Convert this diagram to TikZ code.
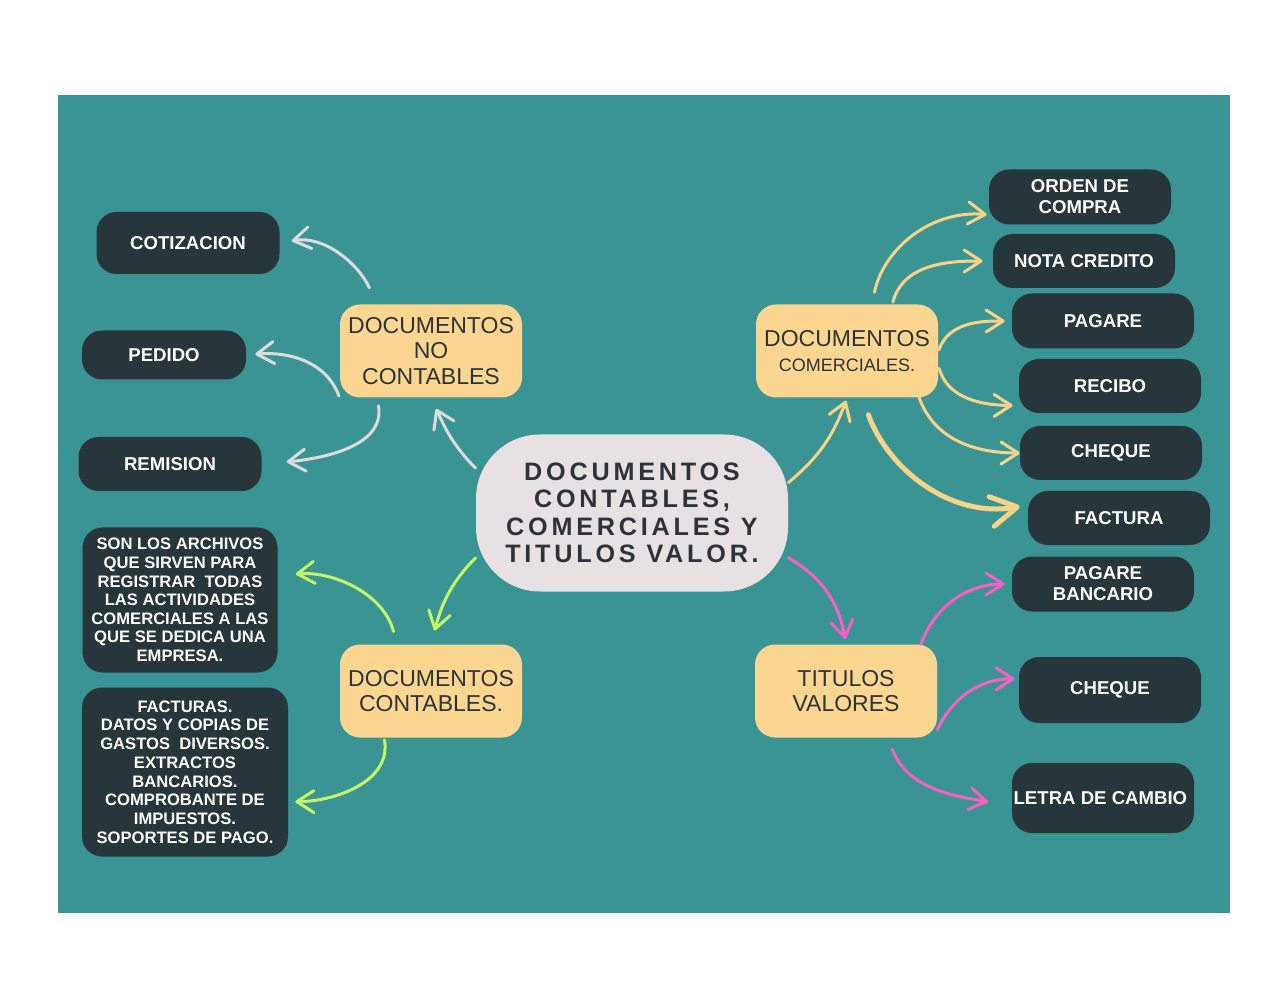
\documentclass[tikz,border=0pt]{standalone}
\usepackage{fontspec}
\setmainfont{Liberation Sans}
\usepackage{xcolor}
\usetikzlibrary{arrows.meta, shapes.geometric}

\definecolor{fondo}{HTML}{3A9494}
\definecolor{oscuro}{HTML}{27363A}
\definecolor{amarillo}{HTML}{FAD690}
\definecolor{centro}{HTML}{E8E1E3}
\definecolor{texto}{HTML}{2E3338}
\definecolor{gris}{HTML}{DCDCDC}
\definecolor{flechaam}{HTML}{F7D38A}
\definecolor{verde}{HTML}{C3F56B}
\definecolor{rosa}{HTML}{F560C2}

\begin{document}
\begin{tikzpicture}[x=0.5pt,y=0.5pt,
  hoja/.style={fill=oscuro, rounded corners=10pt, text=white, align=center, inner sep=0pt,
    font=\bfseries\fontsize{9.3}{10.5}\selectfont},
  caja/.style={fill=amarillo, rounded corners=10pt, text=texto, align=center, inner sep=0pt,
    minimum width=91pt, minimum height=46.5pt, font=\fontsize{11.5}{12.8}\selectfont},
  flecha/.style={line width=1.5pt, line cap=round, -{Straight Barb[length=8.5pt,width=11pt,round]}}]

% fondo
\fill[white] (0,0) rectangle (1280,-989);
\fill[fondo] (58,-95) rectangle (1230,-913);

% nodo central
\node[fill=centro, rounded corners=32pt, minimum width=156pt, minimum height=78.5pt, inner sep=0pt,
  align=center, text=texto, font=\bfseries\fontsize{12.6}{13.7}\selectfont\addfontfeature{LetterSpace=15}]
  (main) at (632,-513) {DOCUMENTOS\\CONTABLES,\\COMERCIALES Y\\TITULOS VALOR.};

% cajas amarillas
\node[caja] (nc) at (431,-351) {DOCUMENTOS\\NO\\CONTABLES};
\node[caja] (cont) at (431,-691) {DOCUMENTOS\\CONTABLES.};
\node[caja] (com) at (847,-351) {DOCUMENTOS\\{\fontsize{9}{10}\selectfont COMERCIALES.}};
\node[caja] (tit) at (846,-691) {TITULOS\\VALORES};

% hojas
\foreach \n/\x/\y/\w/\h/\t in {
    cot/188/243/91.5/31/COTIZACION,
    ped/164/355/82/24.5/PEDIDO,
    rem/170/464/91.5/27/REMISION,
    orden/1080/197/91/27.5/{ORDEN DE\\COMPRA},
    nota/1084/261/91/27/NOTA CREDITO,
    pag/1103/321/91/27.5/PAGARE,
    rec/1110/386/91/27/RECIBO,
    cheq/1111/453/91/27/CHEQUE,
    fac/1119/518/91/27/FACTURA,
    pb/1103/584/91/27.5/{PAGARE\\BANCARIO},
    ch2/1110/690/91/33/CHEQUE,
    let/1103/798/91/35/LETRA DE CAMBIO
} {
    \node[hoja, minimum width=\w pt, minimum height=\h pt] (\n) at (\x,-\y) {\t};
}
\node[hoja, minimum width=97.5pt, minimum height=72.5pt, font=\bfseries\fontsize{8.3}{9.3}\selectfont]
  (son) at (180,-600) {SON LOS ARCHIVOS\\QUE SIRVEN PARA\\REGISTRAR\ \ TODAS\\LAS ACTIVIDADES\\COMERCIALES A LAS\\QUE SE DEDICA UNA\\EMPRESA.};
\node[hoja, minimum width=103pt, minimum height=84.5pt, font=\bfseries\fontsize{8.3}{9.35}\selectfont]
  (facs) at (185,-772) {FACTURAS.\\DATOS Y COPIAS DE\\GASTOS\ \ DIVERSOS.\\EXTRACTOS\\BANCARIOS.\\COMPROBANTE DE\\IMPUESTOS.\\SOPORTES DE PAGO.};

% flechas grises
\foreach \a/\b/\o/\i/\s/\e in {nc.139/cot.east/115/10/9/6, nc.south west/ped.east/110/5/1/4.5,
    nc.221/rem.east/-80/5/4/12.5, main.164/nc.south/135/-65/0/6}
  \draw[flecha, gris, shorten <=\s pt, shorten >=\e pt] (\a) to[out=\o,in=\i] (\b);

% flechas amarillas
\foreach \a/\b/\o/\i/\s/\e in {main.11/com.south/40/-110/0/1.5, com.62/orden.191/78/175/6/1,
    com.46/nota.west/75/180/1/5, com.east/pag.west/70/180/0.5/3.5, com.-9/rec.192/-75/180/1.5/3,
    com.-33/cheq.west/-70/180/0/0}
  \draw[flecha, flechaam, shorten <=\s pt, shorten >=\e pt] (\a) to[out=\o,in=\i] (\b);
\draw[flechaam, line width=2.5pt, line cap=round, -{Straight Barb[length=13pt,width=15pt,round]},
  shorten <=9pt, shorten >=4pt] (com.-72) to[out=-70,in=190] (fac.172);

% flechas verdes
\foreach \a/\b/\o/\i/\s/\e in {main.196/cont.north/225/75/0/7, cont.126/son.14/105/5/6.5/9,
    cont.225/facs.-16/-80/0/1/3.5}
  \draw[flecha, verde, shorten <=\s pt, shorten >=\e pt] (\a) to[out=\o,in=\i] (\b);

% flechas rosas
\foreach \a/\b/\o/\i/\s/\e in {main.-16/tit.north/-30/100/0/2.5, tit.32/pb.west/70/180/0/3.5,
    tit.-23/ch2.173/65/180/0/2, tit.-48/let.185/-70/170/6/12}
  \draw[flecha, rosa, shorten <=\s pt, shorten >=\e pt] (\a) to[out=\o,in=\i] (\b);
\end{tikzpicture}
\end{document}
